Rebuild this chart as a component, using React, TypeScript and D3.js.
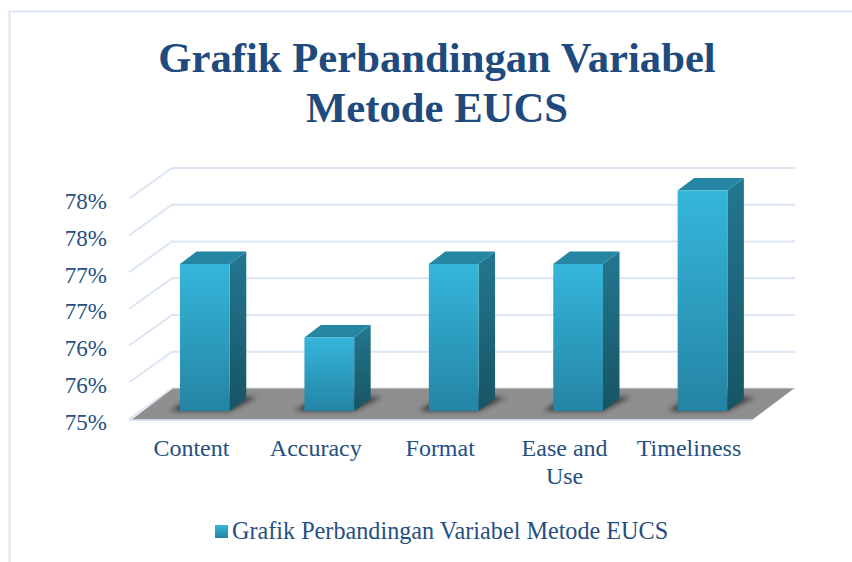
import React from 'react';
import * as d3 from 'd3';

const categories = ['Content', 'Accuracy', 'Format', 'Ease and Use', 'Timeliness'];
const categoryLines = [['Content'], ['Accuracy'], ['Format'], ['Ease and', 'Use'], ['Timeliness']];
const values = [77, 76, 77, 77, 78];
const ticks = [75, 75.5, 76, 76.5, 77, 77.5, 78];
const titleLines = ['Grafik Perbandingan Variabel', 'Metode EUCS'];
const legendLabel = 'Grafik Perbandingan Variabel Metode EUCS';

const width = 852;
const height = 562;
const serif = '"Liberation Serif", serif';
const textColor = '#264f80';
const gridColor = '#dbe5f3';

// bars sit mid way in the fake 3d depth, walls and front edge are offset from them
const y = d3.scaleLinear().domain([75, 78]).range([411, 190.5]);
const x = d3.scaleBand().domain(categories).range([142.7, 764.7]).paddingInner(0.6).paddingOuter(0.3);

const floorFront = 8.3;
const wallBack = -22.5;
const depthX = 43;
const barDepthX = 16.5;
const barDepthY = 12.5;
const labelShift = -13.5;

const pts = (p: [number, number][]) => p.map(d => d.join(',')).join(' ');

export default function App() {
  const barW = x.bandwidth();
  const y0 = y(75);

  return (
    <svg
      width={width}
      height={height}
      style={{ position: 'absolute', left: 0, top: 0, display: 'block', background: '#fff' }}
    >
      <defs>
        <linearGradient id="front" x1="0" y1="0" x2="0" y2="1">
          <stop offset="0" stopColor="#35b6db" />
          <stop offset="1" stopColor="#2484a4" />
        </linearGradient>
        <linearGradient id="side" x1="0" y1="0" x2="0" y2="1">
          <stop offset="0" stopColor="#237790" />
          <stop offset="1" stopColor="#175464" />
        </linearGradient>
        <filter id="blur" x="-30%" y="-60%" width="160%" height="220%">
          <feGaussianBlur stdDeviation="2.5" />
        </filter>
      </defs>

      {/* chart frame */}
      <path d={`M${width},11.5 H9.5 V${height}`} fill="none" stroke={gridColor} strokeWidth={2} />

      {/* title */}
      {titleLines.map((line, i) => (
        <text
          key={line}
          x={437}
          y={72 + i * 50}
          textAnchor="middle"
          fontFamily={serif}
          fontWeight="bold"
          fontSize={42.7}
          fill="#1f4a7d"
        >
          {line}
        </text>
      ))}

      {/* grid lines, wall part and side part */}
      {ticks.map(t => (
        <polyline
          key={t}
          points={pts([
            [129, y(t) + floorFront],
            [129 + depthX, y(t) + wallBack],
            [795, y(t) + wallBack],
          ])}
          fill="none"
          stroke={gridColor}
          strokeWidth={2}
        />
      ))}

      {/* floor */}
      <line x1={129} x2={753} y1={y0 + floorFront + 0.8} y2={y0 + floorFront + 0.8} stroke={gridColor} strokeWidth={2} />
      <polygon
        points={pts([
          [132, y0 + floorFront],
          [132 + depthX - 2, y0 + wallBack],
          [794, y0 + wallBack],
          [753, y0 + floorFront],
        ])}
        fill="#8f8f8f"
      />

      {/* bar shadows */}
      {categories.map(c => (
        <polygon
          key={c}
          points={pts([
            [x(c)! - 10, y0],
            [x(c)! + barW, y0],
            [x(c)! + barW + barDepthX + 11, y0 - barDepthY - 1.5],
            [x(c)! + 12, y0 - barDepthY - 1.5],
          ])}
          fill="#333"
          opacity={0.9}
          filter="url(#blur)"
        />
      ))}

      {/* bars */}
      {values.map((v, i) => {
        const left = x(categories[i])!;
        const top = y(v);
        const right = left + barW;
        return (
          <g key={categories[i]}>
            <polygon
              points={pts([
                [right, top],
                [right + barDepthX, top - barDepthY],
                [right + barDepthX, y0 - barDepthY],
                [right, y0],
              ])}
              fill="url(#side)"
            />
            <polygon
              points={pts([
                [left, top],
                [left + barDepthX, top - barDepthY],
                [right + barDepthX, top - barDepthY],
                [right, top],
              ])}
              fill="#2586a4"
            />
            <rect x={left} y={top} width={barW} height={y0 - top} fill="url(#front)" />
          </g>
        );
      })}

      {/* y labels */}
      {ticks.map(t => (
        <text
          key={t}
          x={107}
          y={y(t) + 18.5}
          textAnchor="end"
          fontFamily={serif}
          fontSize={23}
          fill={textColor}
        >
          {d3.format('.0f')(Math.ceil(t))}%
        </text>
      ))}

      {/* category labels */}
      {categoryLines.map((lines, i) => (
        <g key={categories[i]}>
          {lines.map((line, j) => (
            <text
              key={line}
              x={x(categories[i])! + barW / 2 + labelShift}
              y={456 + j * 28}
              textAnchor="middle"
              fontFamily={serif}
              fontSize={24}
              fill={textColor}
            >
              {line}
            </text>
          ))}
        </g>
      ))}

      {/* legend */}
      <rect x={215} y={525} width={13} height={13} fill="url(#front)" />
      <text x={232} y={539} fontFamily={serif} fontSize={24.2} fill={textColor}>
        {legendLabel}
      </text>
    </svg>
  );
}
